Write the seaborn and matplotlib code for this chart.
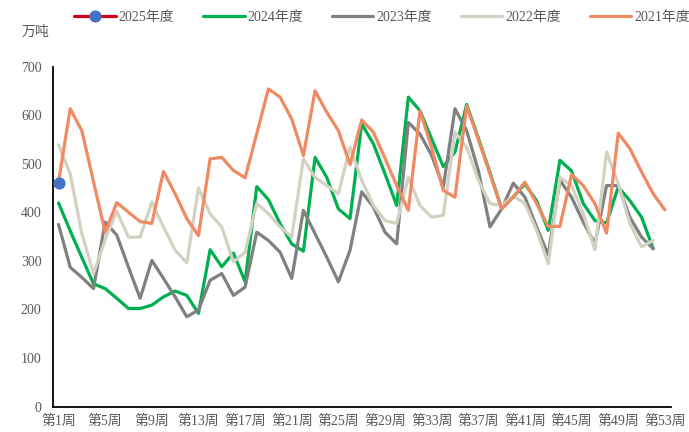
import numpy as np
import pandas as pd
import matplotlib
matplotlib.use("Agg")
import matplotlib.pyplot as plt
from matplotlib.ticker import FixedLocator
import seaborn as sns

weeks = list(range(1, 54))
tick_labels = [f"第{w}周" for w in range(1, 54, 4)]

y2025 = [460]
y2024 = [419, 362, 307, 253, 243, 223, 202, 202, 209, 226, 238, 229, 192, 323, 288, 316, 257, 453, 426, 377,
         335, 320, 513, 472, 407, 387, 582, 541, 479, 414, 637, 609, 551, 494, 524, 622, 553, 482, 408, 432,
         458, 424, 363, 507, 485, 418, 383, 378, 452, 424, 390, 325]
y2023 = [375, 287, 266, 243, 380, 353, 287, 223, 301, 264, 226, 185, 199, 260, 274, 229, 246, 359, 342, 318,
         264, 404, 356, 308, 257, 322, 442, 411, 359, 335, 585, 561, 517, 452, 613, 568, 486, 370, 407, 460,
         431, 370, 312, 466, 431, 380, 335, 455, 455, 390, 349, 325]
y2022 = [539, 479, 356, 274, 344, 402, 349, 349, 421, 370, 322, 296, 450, 397, 370, 298, 318, 418, 397, 370,
         349, 510, 472, 455, 438, 534, 466, 414, 383, 377, 472, 414, 390, 394, 565, 534, 466, 418, 414, 434,
         418, 363, 294, 472, 455, 397, 323, 524, 459, 377, 329, 342]
y2021 = [462, 613, 568, 463, 359, 420, 400, 381, 377, 484, 438, 387, 352, 510, 513, 486, 471, 562, 654, 637,
         592, 517, 650, 606, 568, 498, 590, 565, 511, 455, 404, 609, 533, 445, 431, 619, 550, 479, 407, 431,
         462, 418, 371, 371, 478, 455, 418, 357, 563, 531, 483, 438, 405]

series_names = ["2025年度", "2024年度", "2023年度", "2022年度", "2021年度"]
series_vals = [y2025, y2024, y2023, y2022, y2021]
colors = {"2025年度": "#D0021B", "2024年度": "#00B050", "2023年度": "#808080",
          "2022年度": "#D3D2C2", "2021年度": "#EF8A62"}

sns.set_style("white")
plt.rcParams["font.family"] = ["Liberation Serif", "Noto Sans CJK SC", "DejaVu Sans"]

fig = plt.figure(figsize=(6.89, 4.32), dpi=100)
ax = fig.add_axes([52.7 / 689, 1 - 406.7 / 432, (670.7 - 52.7) / 689, (406.7 - 66.5) / 432])

zorders = {"2024年度": 2, "2023年度": 3, "2022年度": 4, "2021年度": 5, "2025年度": 6}
for name, vals in zip(series_names, series_vals):
    df = pd.DataFrame({"week": weeks[:len(vals)], "value": vals})
    kw = dict(color=colors[name], linewidth=2.3, zorder=zorders[name], label=name)
    if name == "2025年度":
        kw.update(marker="o", markersize=8, markerfacecolor="#4472C4", markeredgecolor="#4472C4")
    sns.lineplot(data=df, x="week", y="value", ax=ax, **kw)

if ax.get_legend() is not None:
    ax.get_legend().remove()

ax.set_xlim(0.5, 53.5)
ax.set_ylim(0, 700)
ax.set_yticks(range(0, 701, 100))
ax.xaxis.set_major_locator(FixedLocator([0.5 + 4 * i for i in range(14)]))
ax.set_xticklabels([])
ax.xaxis.set_minor_locator(FixedLocator(list(range(1, 54, 4))))
ax.set_xticklabels(tick_labels, minor=True)
ax.tick_params(axis="x", which="major", length=5, width=1.2, color="black", direction="out")
ax.tick_params(axis="x", which="minor", length=0, pad=6, labelsize=10, labelcolor="#595959")
ax.tick_params(axis="y", length=5, width=1.2, color="black", direction="out", pad=3,
               labelsize=10, labelcolor="#595959")
ax.set_xlabel("")
ax.set_ylabel("")
for s in ["top", "right"]:
    ax.spines[s].set_visible(False)
for s in ["left", "bottom"]:
    ax.spines[s].set_color("black")
    ax.spines[s].set_linewidth(1.3)
ax.grid(False)

fig.text(22 / 689, 1 - 32 / 432, "万吨", fontsize=10, color="#595959", va="center", ha="left")

h, l = ax.get_legend_handles_labels()
order = [l.index(n) for n in series_names]
fig.legend([h[i] for i in order], [l[i] for i in order], ncol=5, loc="center left",
           bbox_to_anchor=(74 / 689, 1 - 17.3 / 432), frameon=False, fontsize=10,
           handlelength=3.0, handletextpad=0.2, columnspacing=2.08, borderpad=0,
           borderaxespad=0, numpoints=1, labelcolor="#595959")

fig.savefig("out.png", dpi=100)
